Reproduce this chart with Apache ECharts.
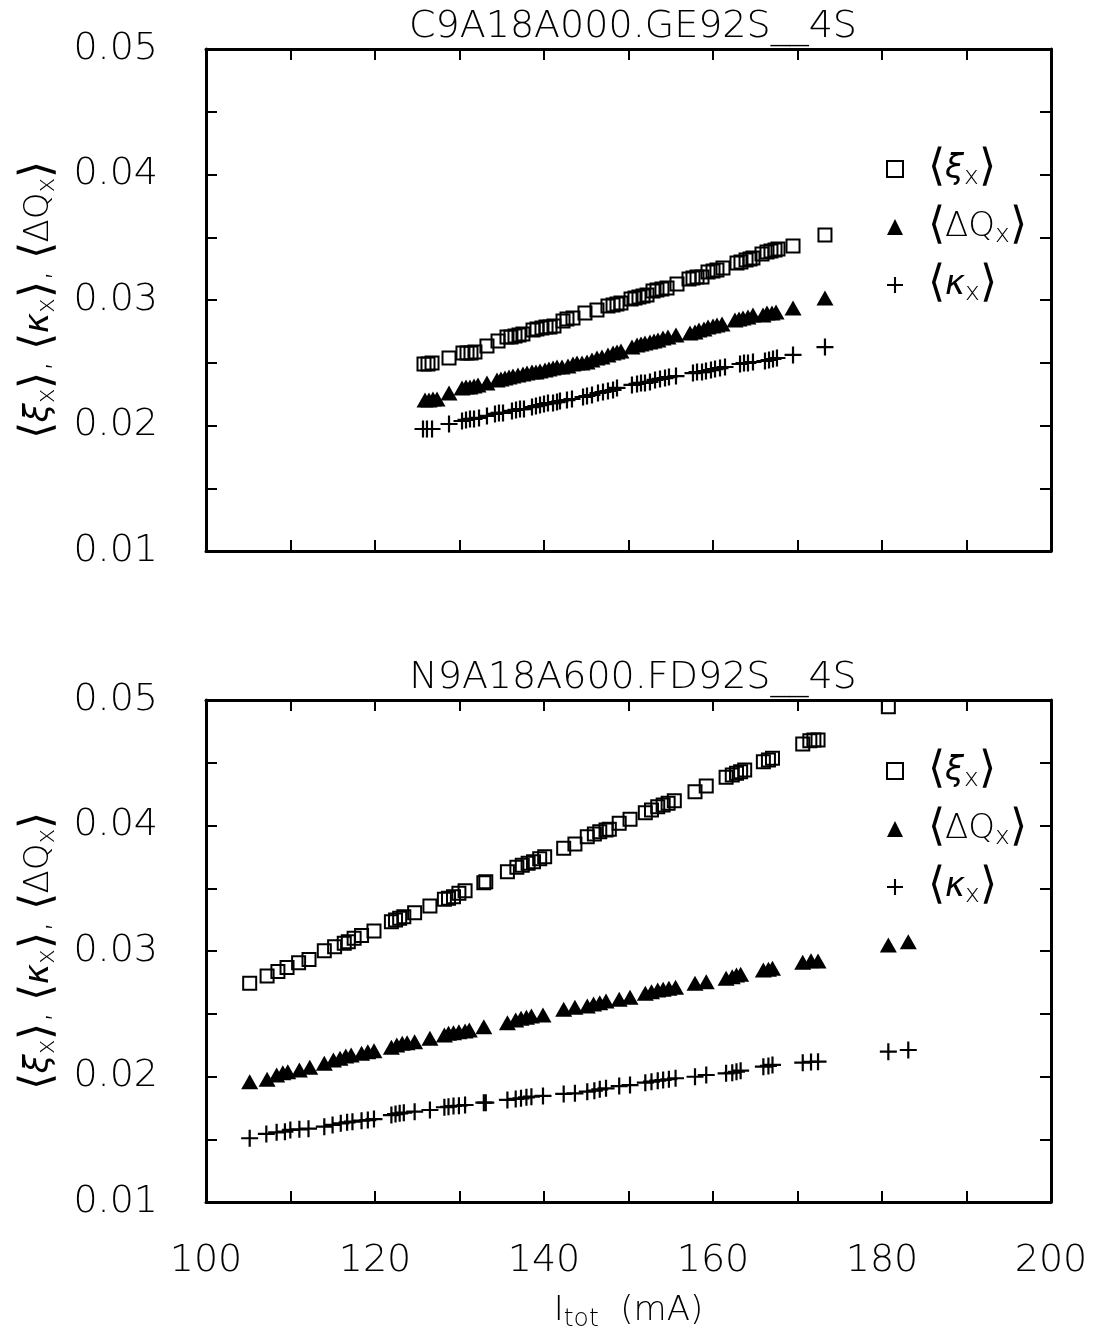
<!DOCTYPE html>
<html><head><meta charset="utf-8">
<script src="https://cdn.jsdelivr.net/npm/echarts@6.0.0/dist/echarts.min.js"></script>
<style>html,body{margin:0;padding:0;background:#fff}#c{width:1094px;height:1335px}</style>
</head><body><div id="c"></div>
<script>
// ---------- DATA ----------
const panelTitles = ['C9A18A000.GE92S__4S', 'N9A18A600.FD92S__4S'];
const xRange = [100, 200];
const yRange = [0.01, 0.05];
const legendNames = ['xi', 'dq', 'kappa'];

// Top panel  [I_tot (mA), value]
const topXi = [[125.80,0.0249],[126.27,0.0249],[126.75,0.02498],[128.76,0.02538],[130.41,0.02578],[130.89,0.02578],[131.36,0.02578],[131.83,0.02586],[133.25,0.02633],[134.56,0.02673],[135.62,0.02705],[136.09,0.02705],[136.57,0.02713],[137.04,0.02721],[137.51,0.02729],[138.70,0.02761],[139.17,0.02769],[139.76,0.02777],[140.24,0.02785],[140.71,0.02785],[141.18,0.02793],[142.25,0.02833],[142.72,0.02849],[143.43,0.02857],[144.85,0.02896],[146.27,0.0292],[147.57,0.02952],[148.17,0.0296],[148.64,0.02968],[149.11,0.02976],[150.30,0.03008],[150.77,0.03016],[151.24,0.03024],[151.72,0.03032],[152.19,0.0304],[152.90,0.03072],[153.37,0.0308],[153.96,0.03088],[154.56,0.03096],[155.74,0.03127],[157.16,0.03167],[157.63,0.03175],[158.11,0.03183],[158.70,0.03183],[159.41,0.03223],[160.00,0.03231],[160.47,0.03239],[161.18,0.03255],[162.84,0.03295],[163.31,0.03303],[163.91,0.03319],[164.38,0.03327],[164.73,0.03335],[165.80,0.03367],[166.39,0.03382],[166.86,0.0339],[167.34,0.03398],[167.69,0.03406],[169.47,0.0343],[173.25,0.03518]];
const topDQ = [[125.92,0.02203],[126.39,0.02203],[126.86,0.02211],[127.34,0.02211],[128.76,0.02259],[130.30,0.02299],[130.77,0.02307],[131.24,0.02307],[131.72,0.02315],[132.19,0.02323],[133.25,0.02339],[134.44,0.02363],[134.91,0.02371],[135.38,0.02378],[135.86,0.02386],[136.33,0.02394],[136.92,0.02402],[137.51,0.0241],[137.99,0.02418],[138.58,0.02426],[139.05,0.02426],[139.53,0.02434],[140.12,0.02442],[140.59,0.0245],[141.07,0.02458],[141.54,0.02466],[142.13,0.02466],[142.84,0.02474],[143.43,0.0249],[143.91,0.02498],[144.50,0.02498],[145.09,0.02506],[145.68,0.02522],[146.27,0.02538],[146.86,0.02546],[147.57,0.02562],[148.17,0.02578],[148.64,0.02586],[149.11,0.02594],[150.41,0.02625],[151.01,0.02641],[151.48,0.02649],[151.95,0.02657],[152.54,0.02665],[153.02,0.02673],[153.49,0.02681],[154.08,0.02697],[154.67,0.02705],[155.62,0.02721],[157.28,0.02737],[157.87,0.02745],[158.34,0.02761],[158.93,0.02769],[159.41,0.02785],[160.00,0.02793],[160.47,0.02801],[161.07,0.02809],[162.60,0.02841],[163.08,0.02849],[163.55,0.02857],[164.14,0.02865],[164.73,0.0288],[165.92,0.0288],[166.39,0.02896],[166.98,0.02896],[167.46,0.02904],[169.47,0.02936],[173.25,0.03016]];
const topKappa = [[125.68,0.01972],[126.15,0.01972],[126.75,0.01972],[128.76,0.02012],[130.30,0.02036],[130.77,0.02044],[131.24,0.02052],[131.72,0.02052],[132.31,0.0206],[133.25,0.02076],[134.20,0.02092],[134.67,0.021],[135.15,0.021],[136.21,0.02116],[136.69,0.02124],[137.16,0.02131],[137.63,0.02131],[138.58,0.02147],[139.05,0.02155],[139.53,0.02163],[140.00,0.02171],[140.47,0.02179],[141.07,0.02179],[141.54,0.02187],[141.89,0.02195],[142.72,0.02203],[143.31,0.02211],[144.62,0.02227],[145.09,0.02235],[145.68,0.02243],[146.39,0.02259],[146.98,0.02267],[147.57,0.02275],[148.17,0.02283],[148.64,0.02299],[150.41,0.02323],[151.01,0.02331],[151.48,0.02339],[151.95,0.02339],[152.54,0.02347],[153.14,0.02363],[153.73,0.02371],[154.32,0.02378],[154.79,0.02386],[155.62,0.02394],[157.63,0.02418],[158.11,0.02426],[158.70,0.02426],[159.17,0.02434],[159.76,0.02442],[160.24,0.0245],[160.83,0.02458],[161.42,0.02466],[163.20,0.0249],[163.67,0.02498],[164.14,0.02498],[164.73,0.02506],[166.15,0.02514],[166.63,0.02522],[167.10,0.0253],[167.57,0.02538],[169.47,0.02562],[173.25,0.02625]];

// Bottom panel
const botXi = [[105.17,0.02743],[107.23,0.02801],[108.51,0.02837],[109.59,0.02869],[110.96,0.02907],[112.19,0.02932],[114.00,0.03002],[115.22,0.03034],[116.36,0.03062],[116.84,0.03074],[117.53,0.03102],[118.41,0.03124],[119.88,0.03159],[121.94,0.03233],[122.43,0.03247],[122.92,0.0326],[123.41,0.03273],[124.69,0.03305],[126.50,0.03359],[128.21,0.03412],[128.70,0.0342],[129.29,0.03433],[129.93,0.0346],[130.66,0.0348],[132.88,0.03544],[133.11,0.03552],[135.67,0.03632],[136.79,0.03667],[137.43,0.03683],[138.12,0.03699],[138.76,0.03712],[139.49,0.03735],[140.08,0.03751],[142.33,0.03818],[143.66,0.03853],[145.12,0.03911],[145.96,0.03932],[146.60,0.03951],[147.34,0.03964],[147.73,0.0397],[148.90,0.04018],[150.18,0.04049],[151.99,0.04102],[152.72,0.04124],[153.46,0.0415],[154.10,0.04163],[154.69,0.04177],[155.42,0.04198],[157.87,0.04269],[159.20,0.04315],[161.55,0.04384],[162.28,0.04402],[162.78,0.04416],[163.27,0.04429],[163.75,0.04442],[165.96,0.04508],[166.56,0.04522],[167.04,0.04535],[170.62,0.04649],[171.46,0.04676],[171.94,0.04681],[172.43,0.04681],[180.75,0.04947],[183.11,0.0502]];
const botDQ = [[105.17,0.01959],[107.23,0.01978],[108.36,0.02012],[109.09,0.0203],[109.68,0.02038],[111.05,0.02052],[112.28,0.02073],[114.00,0.02105],[115.08,0.02131],[115.86,0.02145],[116.54,0.02163],[117.18,0.02171],[118.41,0.02185],[119.15,0.02198],[119.88,0.02206],[121.94,0.02233],[122.58,0.02251],[123.22,0.02265],[123.80,0.02269],[124.69,0.02277],[126.50,0.02304],[128.21,0.02331],[128.70,0.02344],[129.29,0.02349],[129.93,0.02357],[130.66,0.02363],[131.16,0.02371],[132.88,0.02397],[135.67,0.02429],[136.65,0.0245],[137.28,0.02464],[137.92,0.02472],[138.51,0.02482],[139.88,0.0249],[142.33,0.02535],[143.66,0.02551],[145.12,0.02562],[145.86,0.02578],[146.60,0.02588],[147.34,0.02602],[148.90,0.02615],[150.18,0.02631],[151.99,0.02663],[152.72,0.02676],[153.46,0.02689],[154.10,0.02695],[154.78,0.02703],[155.57,0.02711],[157.87,0.02743],[159.20,0.02755],[161.55,0.02782],[162.28,0.02795],[162.78,0.02809],[163.27,0.02814],[165.96,0.02849],[166.56,0.02854],[167.04,0.02862],[170.62,0.0291],[171.60,0.02923],[172.43,0.0292],[180.75,0.03048],[183.11,0.03074]];
const botKappa = [[105.17,0.01508],[107.14,0.01542],[108.36,0.01555],[109.34,0.0156],[109.98,0.01574],[111.05,0.01579],[112.13,0.01584],[114.00,0.016],[114.98,0.01614],[115.95,0.01627],[116.70,0.01635],[117.33,0.0164],[118.41,0.01648],[119.15,0.01653],[119.88,0.01661],[121.94,0.01693],[122.43,0.01701],[122.92,0.01707],[123.41,0.01712],[124.69,0.0172],[126.50,0.01733],[128.21,0.01755],[128.70,0.01759],[129.29,0.01765],[129.93,0.01767],[130.66,0.01773],[132.88,0.01791],[133.11,0.01791],[135.67,0.01813],[136.65,0.01821],[137.28,0.01826],[137.92,0.01834],[138.51,0.01839],[139.88,0.01845],[142.33,0.01861],[143.66,0.01866],[145.12,0.01879],[145.96,0.01887],[146.60,0.01898],[147.34,0.01906],[148.90,0.01924],[150.18,0.01932],[151.99,0.01951],[152.72,0.01959],[153.46,0.01967],[154.10,0.01972],[154.78,0.01978],[155.57,0.01986],[157.87,0.01998],[159.20,0.02012],[161.55,0.02025],[162.28,0.0203],[162.78,0.02038],[163.27,0.02046],[165.96,0.02078],[166.56,0.02084],[167.04,0.02092],[170.62,0.0211],[171.60,0.02116],[172.43,0.02118],[180.75,0.02198],[183.11,0.02211]];

// ---------- STYLE ----------
const FONT = 'DejaVu Sans';
const W = 200; // font weight
const PLUS = 'path://M4.35,0H5.65V4.35H10V5.65H5.65V10H4.35V5.65H0V4.35H4.35Z';
const grids = [
  {left: 206, top: 49, width: 845, height: 502},
  {left: 206, top: 700, width: 845, height: 502}
];
const richBase = {
  b: {fontFamily: FONT, fontWeight: W, fontSize: 44, lineHeight: 42, color: '#000'},
  g: {fontFamily: FONT, fontWeight: W, fontSize: 34, lineHeight: 42, color: '#000', fontStyle: 'italic'},
  m: {fontFamily: FONT, fontWeight: W, fontSize: 34, lineHeight: 42, color: '#000'},
  s: {fontFamily: FONT, fontWeight: W, fontSize: 25, lineHeight: 24, verticalAlign: 'bottom', color: '#000'},
  c: {fontFamily: FONT, fontWeight: W, fontSize: 34, lineHeight: 42, color: '#000'}
};
const labelText = {
  xi: '{b|⟨}{g|ξ}{s|x}{b|⟩}',
  dq: '{b|⟨}{m|ΔQ}{s|x}{b|⟩}',
  kappa: '{b|⟨}{g|κ}{s|x}{b|⟩}'
};
const yName = labelText.xi + '{c|, }' + labelText.kappa + '{c|, }' + labelText.dq;

function xAx(gi, pos, showLabel) {
  return {
    type: 'value', gridIndex: gi, position: pos, min: xRange[0], max: xRange[1], interval: 10,
    axisLine: {show: true, onZero: false, lineStyle: {color: '#000', width: 3}},
    axisTick: {show: true, inside: true, length: 11, lineStyle: {color: '#000', width: 2}},
    splitLine: {show: false},
    axisLabel: {show: showLabel, margin: 40, fontFamily: FONT, fontWeight: W, fontSize: 38, color: '#000',
      formatter: v => (Math.round(v) % 20 === 0 ? String(Math.round(v)) : '')},
    name: showLabel ? '{m|I}{s|tot}{m|  (mA)}' : '',
    nameLocation: 'middle', nameGap: 88,
    nameTextStyle: {rich: richBase}
  };
}
function yAx(gi, pos, showLabel) {
  return {
    type: 'value', gridIndex: gi, position: pos, min: yRange[0], max: yRange[1], interval: 0.005,
    axisLine: {show: true, onZero: false, lineStyle: {color: '#000', width: 3}},
    axisTick: {show: true, inside: true, length: 11, lineStyle: {color: '#000', width: 2}},
    splitLine: {show: false},
    axisLabel: {show: showLabel, margin: 48, fontFamily: FONT, fontWeight: W, fontSize: 38, color: '#000',
      formatter: v => (Math.abs(Math.round(v * 1000) % 10) < 0.5 ? v.toFixed(2) : '')},
    name: showLabel ? yName : '',
    nameLocation: 'middle', nameRotate: 90, nameGap: 146,
    nameTextStyle: {rich: richBase}
  };
}

function mk(name, data, gi, kind) {
  const base = {name: name, type: 'scatter', data: data, xAxisIndex: gi * 2, yAxisIndex: gi * 2, silent: true};
  if (kind === 'xi') return Object.assign(base, {symbol: 'rect', symbolSize: 13,
    itemStyle: {color: 'rgba(0,0,0,0)', borderColor: '#000', borderWidth: 2, opacity: 1}});
  if (kind === 'dq') return Object.assign(base, {symbol: 'triangle', symbolSize: [17, 15],
    itemStyle: {color: '#000', opacity: 1}});
  return Object.assign(base, {symbol: PLUS, symbolSize: 17, itemStyle: {color: '#000', opacity: 1}});
}

const nameMap = {xi0: 'xi', dq0: 'dq', kappa0: 'kappa', xi1: 'xi', dq1: 'dq', kappa1: 'kappa'};
function legendFor(gi, top) {
  return {
    orient: 'vertical', left: 881, top: top, itemWidth: 16, itemHeight: 16, itemGap: 14,
    data: legendNames.map(n => n + gi), selectedMode: false,
    formatter: n => labelText[nameMap[n]],
    textStyle: {rich: richBase, padding: [0, 0, 0, 20]}
  };
}

const chart = echarts.init(document.getElementById('c'), null, {renderer: 'canvas'});
chart.setOption({
  animation: false,
  backgroundColor: '#fff',
  title: [
    {text: panelTitles[0], left: 628, top: 3, textAlign: 'center',
      textStyle: {fontFamily: FONT, fontWeight: W, fontSize: 38, color: '#000'}},
    {text: panelTitles[1], left: 628, top: 654, textAlign: 'center',
      textStyle: {fontFamily: FONT, fontWeight: W, fontSize: 38, color: '#000'}}
  ],
  legend: [legendFor(0, 142), legendFor(1, 744)],
  grid: grids,
  xAxis: [xAx(0, 'bottom', false), xAx(0, 'top', false), xAx(1, 'bottom', true), xAx(1, 'top', false)],
  yAxis: [yAx(0, 'left', true), yAx(0, 'right', false), yAx(1, 'left', true), yAx(1, 'right', false)],
  series: [
    mk('xi0', topXi, 0, 'xi'), mk('dq0', topDQ, 0, 'dq'), mk('kappa0', topKappa, 0, 'kappa'),
    mk('xi1', botXi, 1, 'xi'), mk('dq1', botDQ, 1, 'dq'), mk('kappa1', botKappa, 1, 'kappa')
  ]
});
</script></body></html>
